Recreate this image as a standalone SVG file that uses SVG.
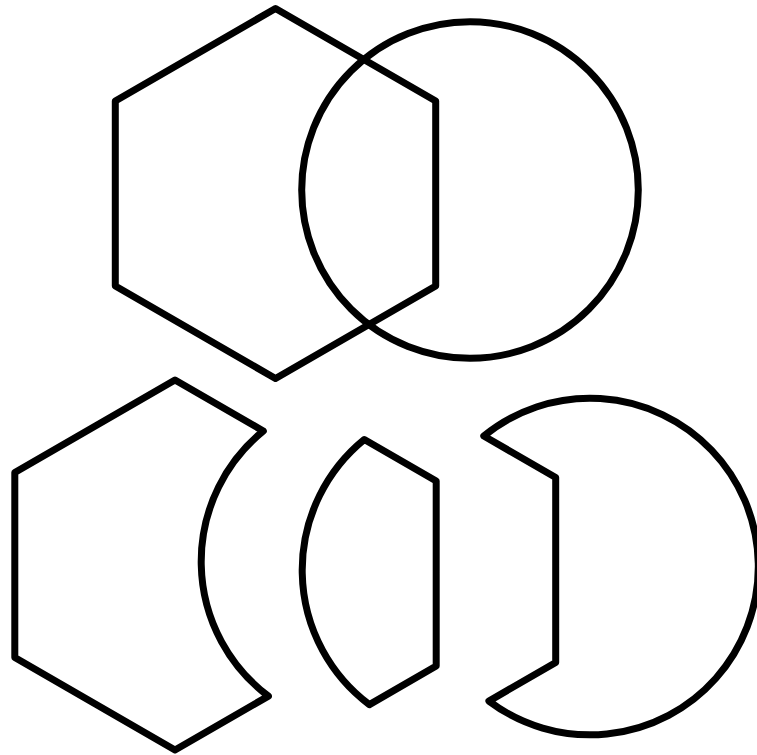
<svg xmlns="http://www.w3.org/2000/svg" width="757" height="755" viewBox="0 0 757 755">
<style>
.s{fill:none;stroke:#000;stroke-width:7;stroke-linejoin:round}
</style>
<rect width="757" height="755" fill="#fff"/>
<g id="hexagon">
<polygon class="s" points="275.5,8.5 435.7,101 435.7,286 275.5,378.5 115.3,286 115.3,101"/>
</g>
<g id="circle">
<circle class="s" cx="470" cy="190" r="168.3"/>
</g>
<g id="hexagon-minus-circle" transform="translate(-100.5,371.5)">
<path class="s" d="M363.8,59.5 L275.5,8.5 L115.3,101 L115.3,286 L275.5,378.5 L368.9,324.6 A168.3,168.3 0 0 1 363.8,59.5 Z"/>
</g>
<g id="intersection" transform="translate(0.5,380)">
<path class="s" d="M363.8,59.5 L435.7,101 L435.7,286 L368.9,324.6 A168.3,168.3 0 0 1 363.8,59.5 Z"/>
</g>
<g id="circle-minus-hexagon" transform="translate(120,376.5)">
<path class="s" d="M363.8,59.5 L435.7,101 L435.7,286 L368.9,324.6 A168.3,168.3 0 1 0 363.8,59.5 Z"/>
</g>
<g id="connectors"/>
</svg>
